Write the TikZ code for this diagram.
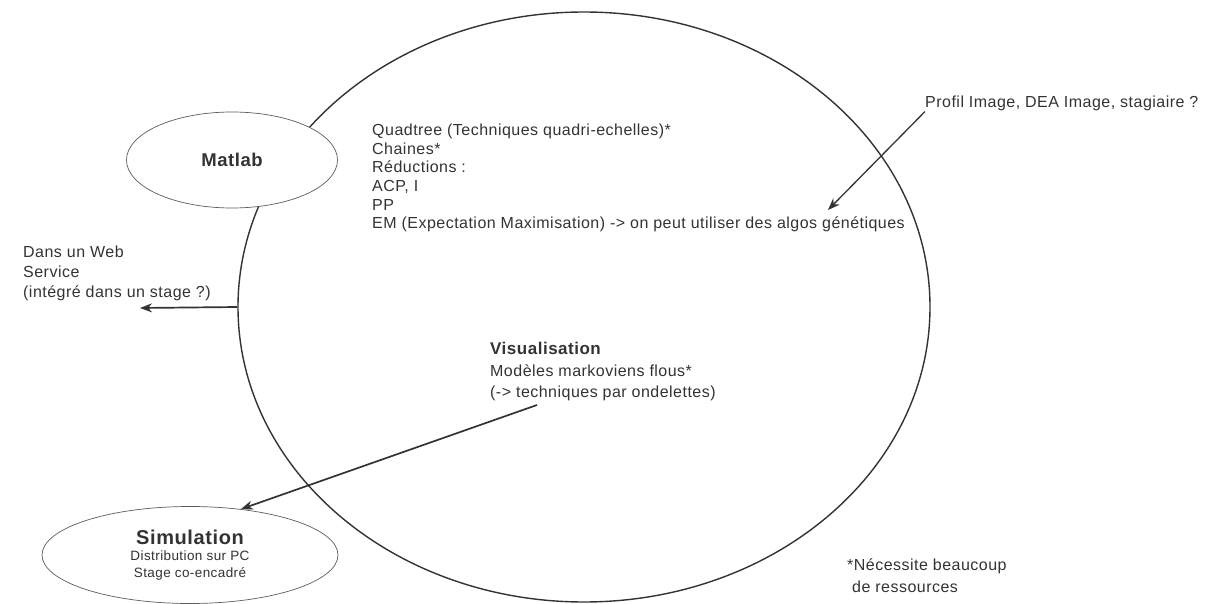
\documentclass[tikz,border=0pt]{standalone}
\usepackage{fontspec}
\setmainfont{Liberation Sans}[LetterSpace=3]
\usetikzlibrary{positioning,arrows.meta}
\usetikzlibrary{shapes.geometric}
\usetikzlibrary{math}
\definecolor{ink}{HTML}{333333}
\tikzset{
    bubble/.style={draw=ink!80, fill=white, ellipse, line width=0.7pt, inner sep=0pt},
    note/.style={align=left, inner sep=0pt, text=ink, font=\fontsize{16}{18.6}\selectfont},
    pointer/.style={draw=ink, line width=1.7pt, ->},
}

\begin{document}
\begin{tikzpicture}[
    >={Stealth[length=12pt,width=9pt]},
    x=1pt, y=-1pt,
  ]

  \tikzmath{
    \workrx = 346; % half width of the big ellipse
    \workry = 295; % half height of the big ellipse
  }

  \useasboundingbox (0,0) rectangle (1216,604);

  % ---------------
  % The big ellipse
  % ---------------
  \node[bubble, draw=ink, fill=none, line width=1.4pt,
    minimum width=2*\workrx, minimum height=2*\workry] (work) at (584,307) {};

  \node[note, anchor=north west] (methods) at (372,124)
    {Quadtree (Techniques quadri-echelles)*\\ Chaines*\\ Réductions :\\ ACP, I\\ PP\\
     EM (Expectation Maximisation) -> on peut utiliser des algos génétiques};

  \node[note, anchor=north west, font=\fontsize{16}{21.5}\selectfont] (visu) at (490,342)
    {{\fontsize{17}{21.5}\selectfont\bfseries Visualisation}\\ Modèles markoviens flous*\\
     (-> techniques par ondelettes)};

  % ------------------
  % The small ellipses
  % ------------------
  \node[bubble, minimum width=211, minimum height=96,
    font=\fontsize{18.5}{22}\selectfont\bfseries, text=ink] (matlab) at (232,160) {Matlab};

  \node[bubble, minimum width=296, minimum height=97, align=center, text=ink,
    font=\fontsize{13.5}{16.5}\selectfont] (sim) at (190,555)
    {{\fontsize{20}{16.5}\selectfont\bfseries Simulation}\\ Distribution sur PC\\ Stage co-encadré};

  % ---------------
  % Remarks outside
  % ---------------
  \node[note, anchor=north west, font=\fontsize{16}{20}\selectfont] (web) at (23,246)
    {Dans un Web\\ Service\\ (intégré dans un stage ?)};

  \node[note, anchor=base west] (profil) at (925,108) {Profil Image, DEA Image, stagiaire ?};

  \node[note, anchor=north west, font=\fontsize{16}{22}\selectfont] (foot) at (847,559)
    {*Nécessite beaucoup\\ \hspace*{5pt}de ressources};

  % Arrows
  \coordinate (webtip) at (140,308);
  \coordinate (profiltip) at (828,210);
  \coordinate (visutail) at (537,405);

  \draw[pointer] (work.west) -- (webtip);
  \draw[pointer, line width=1.3pt] (profil.south west) -- (profiltip);
  \draw[pointer] (visutail) -- (sim.42);

\end{tikzpicture}
\end{document}
